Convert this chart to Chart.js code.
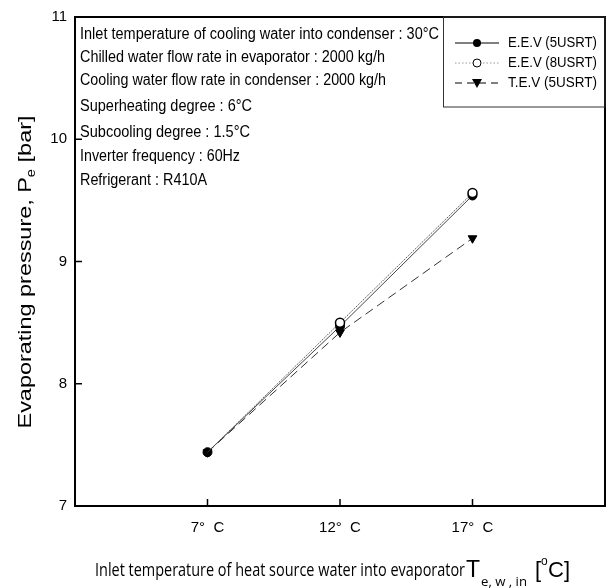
<!DOCTYPE html>
<html>
<head>
<meta charset="utf-8">
<script src="https://cdn.jsdelivr.net/npm/chart.js@4.4.1/dist/chart.umd.min.js"></script>
<style>
  body { margin: 0; background: #fff; }
  canvas { display: block; }
</style>
</head>
<body>
<canvas id="myChart" width="611" height="588"></canvas>
<script>
  // inlet temperature of heat source water (deg C)
  const temps = [7, 12, 17];
  const tickLabelsX = ['7°  C', '12°  C', '17°  C'];
  const ticksY = [7, 8, 9, 10, 11];

  // evaporating pressure (bar)
  const eev5 = [7.44, 8.47, 9.54];
  const eev8 = [7.44, 8.50, 9.56];
  const tev5 = [7.44, 8.42, 9.19];

  const notes = [
    'Inlet temperature of cooling water into condenser : 30°C',
    'Chilled water flow rate in evaporator : 2000 kg/h',
    'Cooling water flow rate in condenser : 2000 kg/h',
    'Superheating degree : 6°C',
    'Subcooling degree : 1.5°C',
    'Inverter frequency : 60Hz',
    'Refrigerant : R410A'
  ];
  const legendNames = ['E.E.V (5USRT)', 'E.E.V (8USRT)', 'T.E.V (5USRT)'];

  const toXY = (vals) => vals.map((v, i) => ({ x: temps[i], y: v }));

  function fitText(c, text, x, y, w) {
    const m = c.measureText(text).width;
    c.save();
    c.translate(x, y);
    c.scale(w / m, 1);
    c.fillText(text, 0, 0);
    c.restore();
  }

  const decor = {
    id: 'decor',
    afterDraw(chart) {
      const c = chart.ctx;
      const a = chart.chartArea;
      const xs = chart.scales.x, ys = chart.scales.y;
      c.save();
      c.fillStyle = '#000';
      c.strokeStyle = '#000';

      // frame
      c.lineWidth = 2;
      c.strokeRect(a.left, a.top, a.right - a.left, a.bottom - a.top);

      // ticks (inward)
      c.lineWidth = 1.5;
      c.beginPath();
      temps.forEach(t => {
        const px = xs.getPixelForValue(t);
        c.moveTo(px, a.bottom); c.lineTo(px, a.bottom - 7);
      });
      ticksY.forEach(t => {
        const py = ys.getPixelForValue(t);
        c.moveTo(a.left, py); c.lineTo(a.left + 7, py);
      });
      c.stroke();

      // tick labels
      c.font = '15px "Liberation Sans"';
      c.textAlign = 'right';
      c.textBaseline = 'middle';
      ticksY.forEach(t => c.fillText(String(t), a.left - 8, ys.getPixelForValue(t)));
      c.textAlign = 'center';
      temps.forEach((t, i) => c.fillText(tickLabelsX[i], xs.getPixelForValue(t), 528));

      // condition notes
      c.textAlign = 'left';
      c.textBaseline = 'middle';
      c.font = '16px "Liberation Sans Narrow", "Liberation Sans"';
      const noteY = [35, 58, 81, 107, 133, 157, 181];
      const noteW = [359, 305, 306, 172, 170, 160, 127];
      notes.forEach((n, i) => fitText(c, n, 80, noteY[i], noteW[i]));

      // legend box
      c.lineWidth = 1;
      c.strokeStyle = '#333';
      c.strokeRect(443.5, a.top, a.right - 443.5, 90);
      const ly = [43, 63, 83];
      c.font = '14px "Liberation Sans Narrow", "Liberation Sans"';
      legendNames.forEach((n, i) => fitText(c, n, 508, ly[i], 89));
      c.strokeStyle = '#000';
      // solid + filled circle
      c.setLineDash([]);
      c.beginPath(); c.moveTo(455, ly[0]); c.lineTo(499, ly[0]); c.stroke();
      c.beginPath(); c.arc(477, ly[0], 4, 0, Math.PI * 2); c.fill();
      // dotted + open circle
      c.strokeStyle = '#999';
      c.setLineDash([1.5, 2]);
      c.beginPath(); c.moveTo(455, ly[1]); c.lineTo(499, ly[1]); c.stroke();
      c.setLineDash([]);
      c.strokeStyle = '#000';
      c.fillStyle = '#fff';
      c.beginPath(); c.arc(477, ly[1], 4, 0, Math.PI * 2); c.fill(); c.stroke();
      c.fillStyle = '#000';
      // dashed + down triangle
      c.setLineDash([7, 5]);
      c.beginPath(); c.moveTo(455, ly[2]); c.lineTo(499, ly[2]); c.stroke();
      c.setLineDash([]);
      c.beginPath(); c.moveTo(472, ly[2] - 4); c.lineTo(482, ly[2] - 4); c.lineTo(477, ly[2] + 5); c.closePath(); c.fill();

      // y title
      c.save();
      c.translate(31, 272);
      c.rotate(-Math.PI / 2);
      c.textAlign = 'left';
      c.textBaseline = 'alphabetic';
      const t1 = 'Evaporating pressure, P';
      const t2 = ' [bar]';
      c.font = '19px "Liberation Sans"';
      const w1 = c.measureText(t1).width;
      const w2 = c.measureText(t2).width;
      c.font = '12px "Liberation Sans"';
      const ws = c.measureText('e').width;
      const k = 313 / (w1 + ws + w2);
      c.scale(k, 1);
      const sx = -(w1 + ws + w2) / 2;
      c.font = '19px "Liberation Sans"';
      c.fillText(t1, sx, 0);
      c.fillText(t2, sx + w1 + ws, 0);
      c.font = '12px "Liberation Sans"';
      c.fillText('e', sx + w1, 4);
      c.restore();

      // x title
      c.textAlign = 'left';
      c.textBaseline = 'alphabetic';
      c.font = '19px "Open Sans"';
      fitText(c, 'Inlet temperature of heat source water into evaporator', 95, 576, 370);
      c.font = '23px "Liberation Sans"';
      c.fillText('T', 466, 577);
      c.font = '12px "Open Sans"';
      fitText(c, 'e, w , in', 481, 586, 46);
      c.font = '22px "Liberation Sans"';
      c.fillText('[', 535, 577);
      c.font = '12px "Liberation Sans"';
      c.fillText('o', 541, 565);
      c.font = '22px "Liberation Sans"';
      c.fillText('C]', 548, 577);
      c.restore();
    }
  };

  const ctx = document.getElementById('myChart');
  new Chart(ctx, {
    type: 'line',
    data: {
      datasets: [{
        label: legendNames[1],
        data: toXY(eev8),
        borderColor: '#555',
        borderWidth: 1,
        borderDash: [1.5, 1],
        pointStyle: 'circle',
        pointRadius: [0, 4.5, 4.5],
        pointBackgroundColor: '#fff',
        pointBorderColor: '#000',
        pointBorderWidth: 1.5
      }, {
        label: legendNames[2],
        data: toXY(tev5),
        borderColor: '#333',
        borderWidth: 1,
        borderDash: [9, 5],
        pointStyle: 'triangle',
        rotation: 180,
        pointRadius: 5,
        pointBackgroundColor: '#000',
        pointBorderColor: '#000'
      }, {
        label: legendNames[0],
        data: toXY(eev5),
        borderColor: '#444',
        borderWidth: 1,
        pointStyle: 'circle',
        pointRadius: 4.5,
        pointBackgroundColor: '#000',
        pointBorderColor: '#000'
      }]
    },
    options: {
      responsive: false,
      animation: false,
      events: [],
      layout: { padding: { left: 75, right: 2, top: 17, bottom: 82 } },
      plugins: { legend: { display: false }, tooltip: { enabled: false } },
      scales: {
        x: { type: 'linear', min: 2, max: 22, display: false },
        y: { min: 7, max: 11, display: false }
      }
    },
    plugins: [decor]
  });
</script>
</body>
</html>
